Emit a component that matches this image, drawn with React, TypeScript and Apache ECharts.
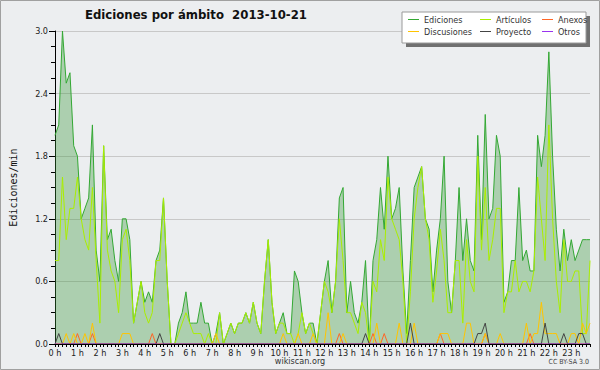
import { useEffect, useRef } from "react";
import * as echarts from "echarts";

const hourLabels = [
  "0 h", "1 h", "2 h", "3 h", "4 h", "5 h", "6 h", "7 h", "8 h", "9 h", "10 h", "11 h",
  "12 h", "13 h", "14 h", "15 h", "16 h", "17 h", "18 h", "19 h", "20 h", "21 h", "22 h", "23 h",
];
const slotMinutes = ["00", "10", "20", "30", "40", "50"];

// one row per hour, six 10-minute slots each
const ediciones = [
  2.0, 2.1, 3.0, 2.5, 2.6, 1.9,
  1.8, 1.2, 1.3, 1.4, 2.1, 0.9,
  0.6, 1.9, 1.0, 1.1, 0.8, 0.6,
  1.2, 1.2, 1.0, 0.2, 0.4, 0.6,
  0.4, 0.5, 0.4, 0.8, 0.9, 1.4,
  0.6, 0.0, 0.0, 0.2, 0.3, 0.5,
  0.2, 0.2, 0.2, 0.4, 0.2, 0.2,
  0.0, 0.1, 0.3, 0.0, 0.1, 0.2,
  0.1, 0.2, 0.2, 0.3, 0.2, 0.4,
  0.2, 0.1, 0.6, 1.0, 0.4, 0.1,
  0.2, 0.3, 0.1, 0.1, 0.7, 0.6,
  0.3, 0.1, 0.2, 0.2, 0.0, 0.3,
  0.6, 0.8, 0.3, 0.6, 1.4, 1.5,
  0.3, 0.6, 0.3, 0.2, 0.4, 0.8,
  0.0, 0.8, 1.0, 1.5, 1.1, 1.8,
  1.2, 1.3, 1.5, 0.7, 0.1, 0.8,
  1.5, 1.6, 1.7, 1.2, 1.1, 0.5,
  0.9, 1.2, 1.8, 0.6, 0.3, 0.8,
  1.5, 0.8, 1.2, 0.8, 0.7, 2.0,
  1.0, 2.2, 1.2, 1.3, 2.0, 1.8,
  0.4, 0.5, 0.8, 0.8, 1.5, 0.8,
  0.9, 0.7, 0.7, 2.0, 1.7, 2.0,
  2.8, 1.8, 1.1, 0.7, 1.1, 0.8,
  1.0, 0.8, 0.9, 1.0, 1.0, 1.0,
];

const articulos = [
  0.8, 0.8, 1.6, 1.0, 1.3, 1.3,
  1.6, 1.2, 1.0, 0.9, 1.5, 0.8,
  0.2, 1.9, 0.9, 0.7, 0.6, 0.3,
  1.0, 1.1, 0.8, 0.2, 0.4, 0.6,
  0.3, 0.2, 0.3, 0.8, 0.8, 1.4,
  0.6, 0.0, 0.0, 0.1, 0.2, 0.3,
  0.2, 0.1, 0.1, 0.1, 0.0, 0.1,
  0.0, 0.0, 0.3, 0.0, 0.1, 0.2,
  0.1, 0.2, 0.2, 0.3, 0.2, 0.4,
  0.2, 0.1, 0.6, 1.0, 0.4, 0.1,
  0.2, 0.2, 0.1, 0.1, 0.0, 0.1,
  0.3, 0.1, 0.2, 0.1, 0.0, 0.3,
  0.6, 0.5, 0.3, 0.6, 1.2, 0.8,
  0.3, 0.3, 0.2, 0.1, 0.4, 0.3,
  0.0, 0.6, 0.5, 1.0, 0.8, 1.6,
  1.2, 1.1, 1.0, 0.6, 0.0, 0.5,
  1.2, 1.5, 1.7, 1.2, 1.0, 0.4,
  0.7, 1.1, 0.8, 0.3, 0.3, 0.8,
  0.8, 0.2, 1.0, 0.6, 0.5, 1.8,
  0.9, 1.5, 0.8, 1.0, 1.3, 1.3,
  0.3, 0.5, 0.5, 0.8, 0.5, 0.6,
  0.6, 0.5, 0.7, 1.6, 1.2, 0.8,
  2.1, 1.2, 0.6, 0.3, 1.0, 0.6,
  0.6, 0.7, 0.7, 0.1, 0.1, 0.8,
];

const anexos = [
  0, 0, 0, 0, 0, 0,
  0.1, 0, 0, 0, 0.1, 0,
  0, 0, 0, 0, 0, 0,
  0, 0, 0, 0, 0, 0,
  0, 0, 0.1, 0, 0, 0,
  0, 0, 0, 0, 0, 0,
  0, 0, 0, 0, 0, 0,
  0, 0, 0, 0, 0, 0,
  0, 0, 0, 0, 0, 0,
  0, 0, 0, 0, 0, 0,
  0, 0, 0, 0, 0, 0,
  0, 0, 0, 0, 0, 0,
  0, 0, 0, 0, 0.1, 0,
  0, 0, 0, 0, 0, 0,
  0, 0.1, 0, 0, 0.1, 0,
  0, 0, 0, 0, 0, 0,
  0, 0, 0, 0, 0, 0,
  0, 0.1, 0, 0, 0, 0,
  0, 0, 0, 0, 0, 0,
  0, 0.1, 0, 0, 0, 0,
  0, 0, 0, 0, 0, 0,
  0, 0.1, 0, 0, 0, 0,
  0, 0, 0, 0, 0, 0,
  0, 0, 0, 0, 0, 0,
];

const discusiones = [
  0, 0, 0, 0.1, 0, 0.1,
  0, 0, 0.1, 0, 0.2, 0,
  0, 0, 0, 0, 0, 0,
  0.1, 0.1, 0.1, 0, 0, 0,
  0, 0, 0, 0, 0, 0,
  0, 0, 0, 0, 0, 0,
  0, 0, 0, 0, 0, 0,
  0, 0.1, 0, 0, 0, 0,
  0, 0, 0, 0, 0, 0,
  0, 0, 0, 0, 0, 0,
  0, 0.1, 0, 0, 0, 0.1,
  0, 0, 0, 0.1, 0, 0,
  0, 0.3, 0, 0, 0, 0.1,
  0, 0, 0, 0, 0, 0,
  0, 0, 0.2, 0, 0, 0,
  0, 0, 0.2, 0, 0, 0,
  0.2, 0, 0, 0, 0, 0,
  0, 0.1, 0.1, 0.1, 0, 0,
  0, 0, 0.2, 0.2, 0, 0,
  0, 0.1, 0, 0, 0, 0.1,
  0, 0, 0, 0, 0, 0,
  0.2, 0, 0.1, 0.1, 0.4, 0.1,
  0.1, 0.1, 0.1, 0, 0, 0,
  0.1, 0.1, 0, 0.2, 0.1, 0.2,
];

const proyecto = [
  0, 0.1, 0, 0, 0, 0,
  0, 0, 0, 0, 0, 0,
  0, 0, 0, 0, 0, 0,
  0, 0, 0, 0, 0, 0,
  0, 0, 0, 0, 0.1, 0,
  0, 0, 0, 0, 0, 0,
  0, 0, 0, 0, 0, 0,
  0, 0, 0, 0, 0, 0,
  0, 0, 0, 0, 0, 0,
  0, 0, 0, 0, 0, 0,
  0, 0, 0, 0, 0, 0,
  0, 0, 0, 0, 0, 0,
  0, 0, 0, 0, 0, 0,
  0, 0, 0, 0, 0, 0.1,
  0, 0, 0, 0, 0, 0,
  0, 0, 0, 0, 0, 0.2,
  0, 0, 0, 0, 0, 0,
  0, 0, 0, 0, 0, 0,
  0, 0, 0, 0, 0, 0.1,
  0.1, 0.2, 0, 0, 0, 0,
  0, 0, 0, 0, 0, 0,
  0, 0, 0, 0, 0, 0.2,
  0, 0, 0, 0, 0.1, 0,
  0, 0, 0.1, 0.1, 0, 0,
];

const otros = [
  0, 0, 0, 0, 0, 0,  0, 0, 0, 0, 0, 0,  0, 0, 0, 0, 0, 0,  0, 0, 0, 0, 0, 0,
  0, 0, 0, 0, 0, 0,  0, 0, 0, 0, 0, 0,  0, 0, 0, 0, 0, 0,  0, 0, 0, 0, 0, 0,
  0, 0, 0, 0, 0, 0,  0, 0, 0, 0, 0, 0,  0, 0, 0, 0, 0, 0,  0, 0, 0, 0, 0, 0,
  0, 0, 0, 0, 0, 0,  0, 0, 0, 0, 0, 0,  0, 0, 0, 0, 0, 0,  0, 0, 0, 0, 0, 0,
  0, 0, 0, 0, 0, 0,  0, 0, 0, 0, 0, 0,  0, 0, 0, 0, 0, 0,  0, 0, 0, 0, 0, 0,
  0, 0, 0, 0, 0, 0,  0, 0, 0, 0, 0, 0,  0, 0, 0, 0, 0, 0,  0, 0, 0, 0, 0, 0,
];

const yTickValues = [0, 0.6, 1.2, 1.8, 2.4, 3.0];

const seriesNames = ["Ediciones", "Artículos", "Anexos", "Discusiones", "Proyecto", "Otros"];
const seriesColors = ["#33a833", "#aaee00", "#ff6626", "#ffc400", "#444444", "#9933ee"];
const seriesData = [ediciones, articulos, anexos, discusiones, proyecto, otros];

const FONT = "'DejaVu Sans Condensed', 'DejaVu Sans', sans-serif";

export default function App() {
  const ref = useRef<HTMLDivElement>(null);

  useEffect(() => {
    document.body.style.margin = "0";
    if (!ref.current) return;
    const chart = echarts.init(ref.current, undefined, { renderer: "svg" });

    const categories = hourLabels.flatMap((_, h) => slotMinutes.map((m) => `${h}:${m}`));

    const legendPos = [
      { left: 408, top: 15 },
      { left: 480, top: 15 },
      { left: 542, top: 15 },
      { left: 408, top: 27 },
      { left: 480, top: 27 },
      { left: 542, top: 27 },
    ];

    const option: any = {
      animation: false,
      backgroundColor: "#eceef0",
      textStyle: { fontFamily: FONT },
      title: {
        text: "Ediciones por ámbito  2013-10-21",
        left: 85,
        top: 8,
        padding: 0,
        textStyle: { fontFamily: FONT, fontSize: 13, fontWeight: "bold", color: "#111" },
      },
      grid: { left: 46, right: 10, top: 31, bottom: 26 },
      legend: seriesNames.map((name, i) => ({
        data: [name],
        left: legendPos[i].left,
        top: legendPos[i].top,
        padding: 0,
        icon: "rect",
        itemWidth: 11,
        itemHeight: 1,
        itemGap: 0,
        z: 30,
        selectedMode: false,
        textStyle: { fontFamily: FONT, fontSize: 9, color: "#333", padding: [0, 0, 0, 0] },
      })),
      xAxis: {
        type: "category",
        data: categories,
        boundaryGap: false,
        z: 10,
        axisLine: { lineStyle: { color: "#000", width: 1 } },
        axisTick: { interval: 0, length: 3, lineStyle: { color: "#000" } },
        axisLabel: {
          interval: 5,
          margin: 4,
          fontSize: 9,
          color: "#222",
          fontFamily: FONT,
          formatter: (_v: string, idx: number) => hourLabels[Math.floor(idx / 6)],
        },
        splitLine: { show: false },
      },
      yAxis: {
        type: "value",
        min: yTickValues[0],
        max: yTickValues[yTickValues.length - 1],
        interval: 0.6,
        name: "Ediciones/min",
        nameLocation: "middle",
        nameGap: 37,
        nameRotate: 90,
        nameTextStyle: { fontFamily: "'DejaVu Sans Mono', monospace", fontSize: 10, color: "#111" },
        axisLine: { show: true, lineStyle: { color: "#000" } },
        axisTick: { show: true, length: 6, lineStyle: { color: "#000" } },
        minorTick: { show: true, splitNumber: 4, length: 4, lineStyle: { color: "#000" } },
        axisLabel: {
          fontSize: 9,
          color: "#222",
          fontFamily: FONT,
          margin: 7,
          formatter: (v: number) => v.toFixed(1),
        },
        splitLine: { show: true, lineStyle: { color: "#c8c8c8", width: 1 } },
      },
      graphic: [
        { type: "rect", z: 20, shape: { x: 406, y: 16, width: 184, height: 31 }, style: { fill: "#707070" } },
        { type: "rect", z: 21, shape: { x: 402, y: 12, width: 184, height: 31 }, style: { fill: "#ffffff", stroke: "#9a9a9a", lineWidth: 1 } },
        {
          type: "text", z: 21, x: 300, y: 361,
          style: { text: "wikiscan.org", font: `9px ${FONT}`, fill: "#333", textAlign: "center", textVerticalAlign: "middle" },
        },
        {
          type: "text", z: 21, x: 589, y: 362,
          style: { text: "CC BY-SA 3.0", font: `7px ${FONT}`, fill: "#444", textAlign: "right", textVerticalAlign: "middle" },
        },
        { type: "rect", z: 40, shape: { x: 0.5, y: 0.5, width: 599, height: 369 }, style: { fill: "none", stroke: "#a0a0a0", lineWidth: 1 } },
      ],
      series: seriesNames.map((name, i) => ({
        name,
        type: "line",
        data: seriesData[i],
        showSymbol: false,
        symbol: "none",
        z: 2 + (i === 0 ? 0 : 1),
        lineStyle: { color: seriesColors[i], width: 1 },
        itemStyle: { color: seriesColors[i] },
        areaStyle: i === 0 ? { color: "rgba(55,150,55,0.5)" } : undefined,
      })),
    };

    chart.setOption(option);
    return () => chart.dispose();
  }, []);

  return <div ref={ref} style={{ width: 600, height: 370 }} />;
}
